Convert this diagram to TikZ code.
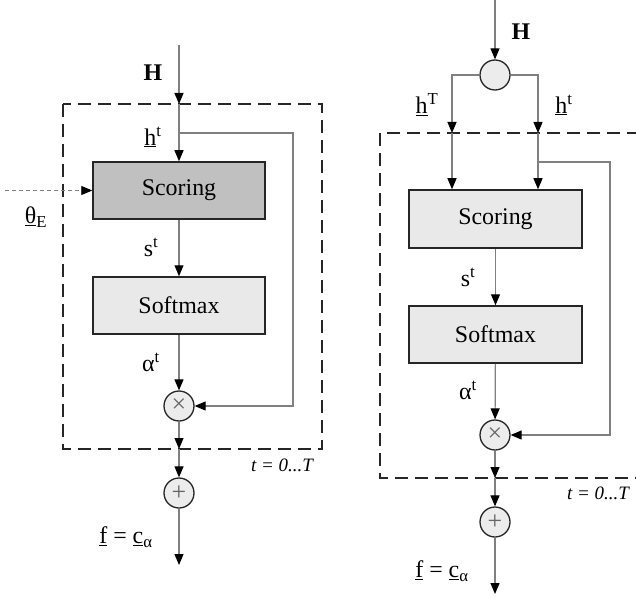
\documentclass[tikz,border=0pt]{standalone}
\usepackage{fontspec}
\setmainfont{Liberation Serif}
\usetikzlibrary{arrows.meta}
\definecolor{connc}{RGB}{128,128,128}
\definecolor{scoredark}{RGB}{192,192,192}
\definecolor{boxfill}{RGB}{233,233,233}
\definecolor{opfill}{RGB}{236,236,236}
\begin{document}
\begin{tikzpicture}[x=1bp,y=-1bp,
  conn/.style={draw=connc, line width=1.2bp, -{Triangle[width=9bp,length=11bp,color=black]}},
  plain/.style={draw=connc, line width=1.2bp},
  blockbox/.style={draw=black!85, line width=1.5bp, minimum width=172bp, minimum height=57bp, font=\fontsize{24}{28}\selectfont, inner sep=0pt},
  opcirc/.style={circle, draw=black!85, line width=1.3bp, fill=opfill, minimum size=30bp, inner sep=0pt, font=\fontsize{26}{28}\selectfont, text=black!60},
  lbl/.style={font=\fontsize{24}{27}\selectfont, inner sep=0pt},
  lblb/.style={font=\fontsize{24}{27}\selectfont\bfseries, inner sep=0pt},
  looplbl/.style={font=\fontsize{19}{22}\selectfont\itshape, inner sep=0pt},
  loopbox/.style={draw=black!85, line width=1.8bp, dash pattern=on 13bp off 7bp},
  thin dashed in/.style={draw=connc, line width=0.9bp, dash pattern=on 4bp off 3bp, -{Triangle[width=9bp,length=11bp,color=black]}}
]
\useasboundingbox (0,0) rectangle (636,598);

% ---------------- left diagram ----------------
\draw[loopbox] (63,104) rectangle (322,449);
\node[blockbox, fill=scoredark] (scL) at (179,190.5) {Scoring};
\node[blockbox, fill=boxfill] (smL) at (179,305.5) {Softmax};
\node[opcirc] (mulL) at (179,406) {×};
\node[opcirc] (addL) at (179,493) {+};
\coordinate (inL) at (179,45);
\coordinate (topL) at (179,104);
\coordinate (brL) at (179,133);
\coordinate (cornL1) at (293,133);
\coordinate (cornL2) at (293,406);
\coordinate (botL) at (179,449);
\coordinate (outL) at (179,565);
\coordinate (thL) at (5,190.5);
\draw[conn] (inL) -- (topL);
\draw[conn] (topL) -- (scL);
\draw[conn] (brL) -- (cornL1) -- (cornL2) -- (mulL);
\draw[conn] (scL) -- (smL);
\draw[conn] (smL) -- (mulL);
\draw[conn] (mulL) -- (botL);
\draw[conn] (botL) -- (addL);
\draw[conn] (addL) -- (outL);
\draw[thin dashed in] (thL) -- (scL);

\node[lblb] (HL) at (153,73) {H};
\node[lbl] (htL) at (153,137) {\underline{h}\textsuperscript{t}};
\node[lbl] (thetaL) at (36,217) {\underline{θ}\textsubscript{E}};
\node[lbl] (stL) at (151,247) {s\textsuperscript{t}};
\node[lbl] (atL) at (151,362) {α\textsuperscript{t}};
\node[looplbl] (tL) at (282,465) {t = 0...T};
\node[lbl] (fL) at (126,537) {\underline{f} = \underline{c}\textsubscript{α}};

% ---------------- right diagram ----------------
\draw[loopbox] (640,133) -- (380,133) -- (380,478) -- (640,478);
\node[opcirc] (splitR) at (495,75) {};
\node[blockbox, fill=boxfill, minimum width=173bp, minimum height=58bp] (scR) at (495.5,219) {Scoring};
\node[blockbox, fill=boxfill, minimum width=173bp] (smR) at (495.5,334.5) {Softmax};
\node[opcirc] (mulR) at (495,435) {×};
\node[opcirc] (addR) at (495,522) {+};
\coordinate (inR) at (495,0);
\coordinate (lR1) at (452,75);
\coordinate (lR2) at (452,133);
\coordinate (rR1) at (538,75);
\coordinate (rR2) at (538,133);
\coordinate (brR) at (538,162);
\coordinate (cR1) at (610,162);
\coordinate (cR2) at (610,435);
\coordinate (botR) at (495,478);
\coordinate (outR) at (495,594);
\draw[conn] (inR) -- (splitR);
\draw[conn] (splitR.west) -- (lR1) -- (lR2);
\draw[conn] (splitR.east) -- (rR1) -- (rR2);
\draw[conn] (lR2) -- (lR2 |- scR.north);
\draw[conn] (rR2) -- (rR2 |- scR.north);
\draw[conn] (brR) -- (cR1) -- (cR2) -- (mulR);
\draw[conn] (scR) -- (smR);
\draw[conn] (smR) -- (mulR);
\draw[conn] (mulR) -- (botR);
\draw[conn] (botR) -- (addR);
\draw[conn] (addR) -- (outR);

\node[lblb] (HR) at (521,32) {H};
\node[lbl] (hTR) at (427,105) {\underline{h}\textsuperscript{T}};
\node[lbl] (htR) at (564,105) {\underline{h}\textsuperscript{t}};
\node[lbl] (stR) at (468,277) {s\textsuperscript{t}};
\node[lbl] (atR) at (468,390) {α\textsuperscript{t}};
\node[looplbl] (tR) at (598,493) {t = 0...T};
\node[lbl] (fR) at (442,571) {\underline{f} = \underline{c}\textsubscript{α}};
\end{tikzpicture}
\end{document}
